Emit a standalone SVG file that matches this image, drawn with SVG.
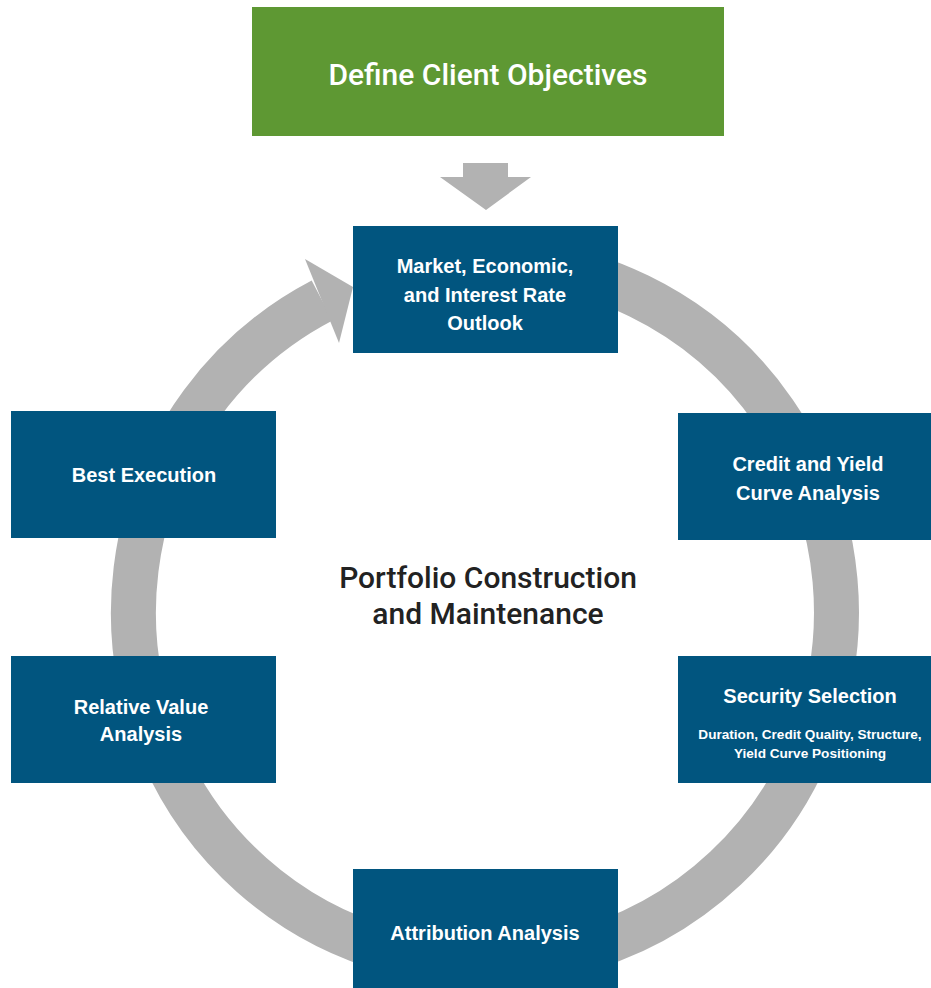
<svg xmlns="http://www.w3.org/2000/svg" width="931" height="988" viewBox="0 0 931 988">
<style>
.box{fill:#01557f}
.bt{fill:#ffffff;font-family:"Liberation Sans",Arial,sans-serif;font-weight:bold;font-size:20px;text-anchor:middle}
.sub{font-size:13.6px}
.ring{fill:none;stroke:#b2b2b2;stroke-width:45}
.gray{fill:#b2b2b2}
.big{font-family:Roboto,"Liberation Sans",Arial,sans-serif;font-weight:500;font-size:30px;text-anchor:middle}
</style>
<rect width="931" height="988" fill="#ffffff"/>
<g id="connectors">
<path class="ring" d="M 485 260.5 A 351.5 351.5 0 1 1 322.1 300.5"/>
<polygon class="gray" points="305,259 353,287 339,343"/>
<polygon class="gray" points="463,163 508,163 508,177 531,177 486,210 440,177 463,177"/>
</g>
<g id="define-client-objectives">
<rect x="252" y="7" width="472" height="129" fill="#5e9833"/>
<text class="big" x="488" y="85" fill="#ffffff" font-size="31">Define Client Objectives</text>
</g>
<g id="market-outlook">
<rect class="box" x="353" y="226" width="265" height="127"/>
<text class="bt" x="485" y="273">Market, Economic,</text>
<text class="bt" x="485" y="302">and Interest Rate</text>
<text class="bt" x="485" y="330">Outlook</text>
</g>
<g id="credit-yield">
<rect class="box" x="678" y="413" width="253" height="127"/>
<text class="bt" x="808" y="471">Credit and Yield</text>
<text class="bt" x="808" y="500">Curve Analysis</text>
</g>
<g id="security-selection">
<rect class="box" x="678" y="656" width="253" height="127"/>
<text class="bt" x="810" y="703" font-size="21">Security Selection</text>
<text class="bt sub" x="810" y="739">Duration, Credit Quality, Structure,</text>
<text class="bt sub" x="810" y="758">Yield Curve Positioning</text>
</g>
<g id="attribution-analysis">
<rect class="box" x="353" y="869" width="265" height="119"/>
<text class="bt" x="485" y="940">Attribution Analysis</text>
</g>
<g id="relative-value">
<rect class="box" x="11" y="656" width="265" height="127"/>
<text class="bt" x="141" y="714">Relative Value</text>
<text class="bt" x="141" y="741">Analysis</text>
</g>
<g id="best-execution">
<rect class="box" x="11" y="411" width="265" height="127"/>
<text class="bt" x="144" y="482">Best Execution</text>
</g>
<g id="center-label">
<text class="big" x="488" y="588" fill="#222222">Portfolio Construction</text>
<text class="big" x="488" y="624" fill="#222222">and Maintenance</text>
</g>
</svg>
